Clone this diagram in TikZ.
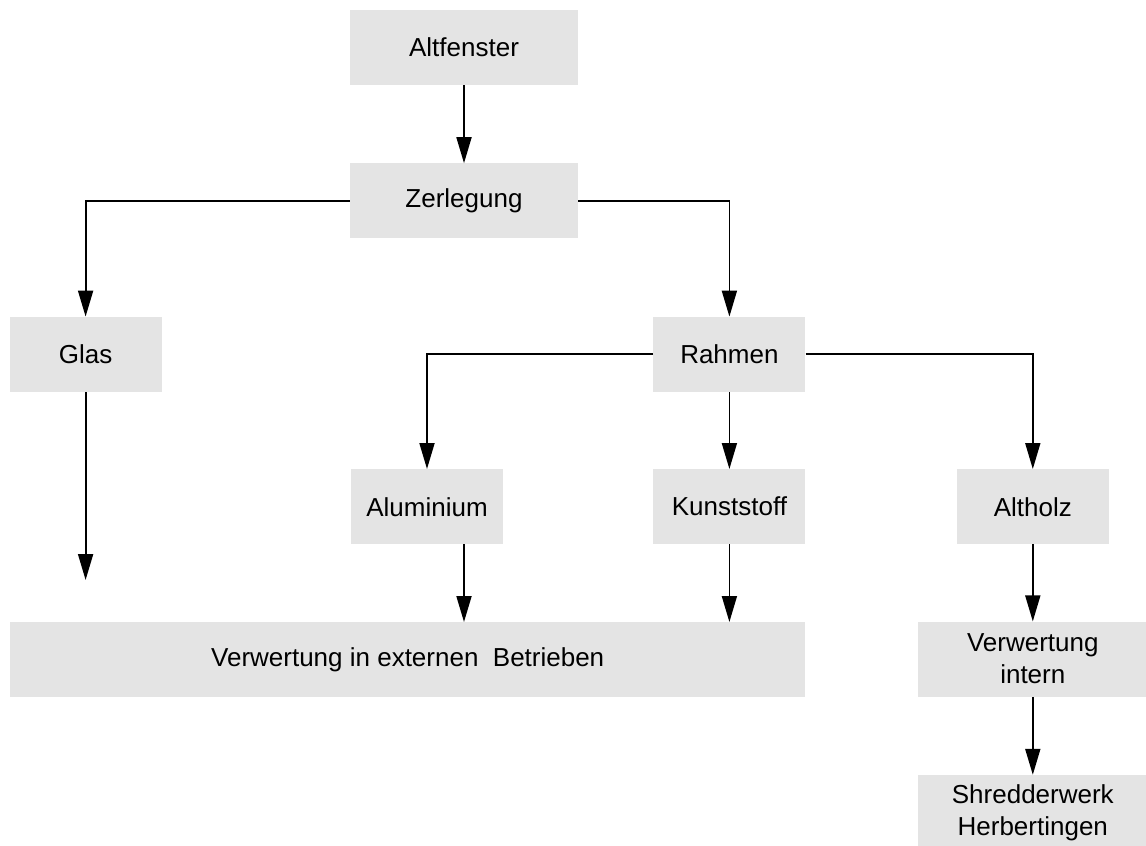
\documentclass[tikz,border=0pt]{standalone}
\usepackage{fontspec}
\setmainfont{Liberation Sans}
\usetikzlibrary{positioning,arrows.meta}
\definecolor{boxgray}{RGB}{228,228,228}

\begin{document}
\begin{tikzpicture}[x=1pt, y=1pt,
    greybox/.style={fill=boxgray, inner sep=0pt, minimum height=75pt, minimum width=152pt,
      align=center, font=\fontsize{26}{32}\selectfont},
    arr/.style={line width=1.8pt, -{Triangle[length=26pt,width=15pt]}}]
\useasboundingbox (0,0) rectangle (1146,-846);
\node (Altf) [greybox, minimum width=228pt] at (464,-47.5) {Altfenster};
\node (Zerl) [greybox, minimum width=228pt, below=78pt of Altf] {Zerlegung};
\node (Glas) [greybox, below left=78pt and 188pt of Zerl] {Glas};
\node (Rahm) [greybox, below right=78pt and 75pt of Zerl] {Rahmen};
\node (Kunst) [greybox, below=77pt of Rahm] {Kunststoff};
\node (Alu) [greybox, left=150pt of Kunst] {Aluminium};
\node (Holz) [greybox, right=151pt of Kunst] {Altholz};
\node (Ext) [greybox, minimum width=795pt, anchor=north west] at (10,-622) {Verwertung in externen~~Betrieben};
\node (Int) [greybox, minimum width=229pt, below=77pt of Holz] {Verwertung\\intern};
\node (Shred) [greybox, minimum width=229pt, below=78pt of Int] {Shredderwerk\\Herbertingen};
\coordinate (GlasEnd) at ([yshift=-188pt]Glas.south);

\draw[arr] (Altf) -- (Zerl);
\draw[arr] (Zerl) -| (Glas);
\draw[arr] (Zerl) -| (Rahm);
\draw[arr] (Glas) -- (GlasEnd);
\draw[arr] (Rahm) -| (Alu);
\draw[arr] (Rahm) -- (Kunst);
\draw[arr] (Rahm) -| (Holz);
\draw[arr] (Alu.south -| Altf.south) -- (Ext.north -| Altf.south);
\draw[arr] (Kunst) -- (Kunst |- Ext.north);
\draw[arr] (Holz) -- (Int);
\draw[arr] (Int) -- (Shred);
\end{tikzpicture}
\end{document}
